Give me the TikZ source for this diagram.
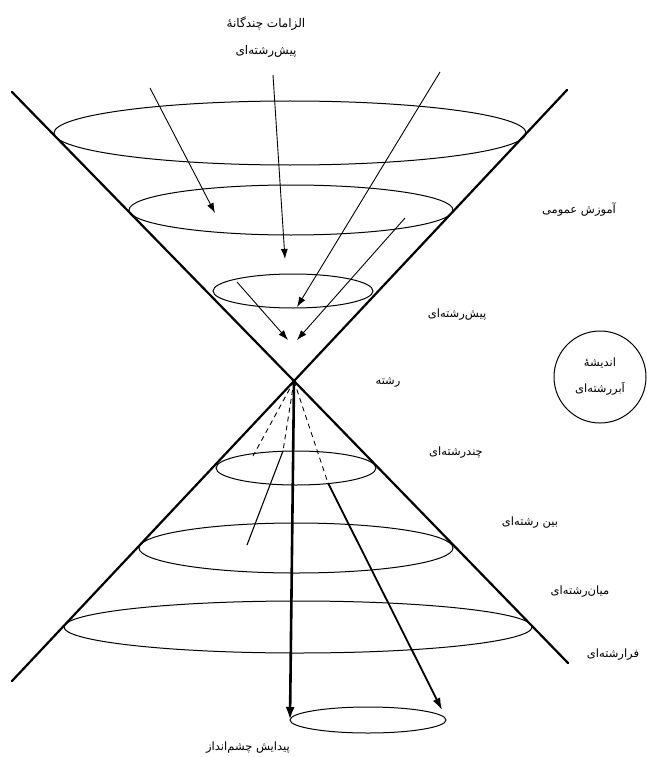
\documentclass[tikz,border=0pt]{standalone}
\usepackage{fontspec}
\newfontfamily\persfont[Script=Arabic]{DejaVu Sans}
\TeXXeTstate=1
\usetikzlibrary{arrows.meta}
\newcommand{\pers}[1]{{\persfont\beginR #1\endR}}
\begin{document}
\begin{tikzpicture}[x=1pt,y=-1pt,
  coneline/.style={line width=2.2pt,line cap=round},
  ring/.style={line width=1pt},
  thinarrow/.style={line width=0.9pt,-{Latex[length=10pt,width=7pt]}},
  dashline/.style={line width=0.9pt,dash pattern=on 5pt off 4pt},
  label/.style={font=\fontsize{11.5}{14}\selectfont,inner sep=0pt}]
\useasboundingbox (0,0) rectangle (647,757);
% cone lines
\coordinate (X) at (294,381);
\coordinate (UL) at (12,92);
\coordinate (LR) at (568,663);
\coordinate (UR) at (567,90);
\coordinate (LL) at (12,681);
\draw[coneline] (UL) -- (X) -- (LR);
\draw[coneline] (UR) -- (X) -- (LL);
% upper ellipses
\draw[ring] (290,133) ellipse [x radius=236,y radius=32];
\draw[ring] (291,210) ellipse [x radius=162,y radius=25];
\draw[ring] (293,291) ellipse [x radius=80,y radius=17];
% lower ellipses
\draw[ring] (296,468) ellipse [x radius=80,y radius=17];
\draw[ring] (296,548) ellipse [x radius=157,y radius=25];
\draw[ring] (298,627) ellipse [x radius=234,y radius=26];
\draw[ring] (368,720) ellipse [x radius=78,y radius=13];
% upper arrows
\coordinate (a1s) at (150,88);  \coordinate (a1e) at (215,213);
\coordinate (a2s) at (273,75);  \coordinate (a2e) at (285,259);
\coordinate (a3s) at (440,72);  \coordinate (a3e) at (297,307);
\coordinate (a4s) at (405,218); \coordinate (a4e) at (297,340);
\coordinate (a5s) at (237,282); \coordinate (a5e) at (288,340);
\draw[thinarrow] (a1s) -- (a1e);
\draw[thinarrow] (a2s) -- (a2e);
\draw[thinarrow] (a3s) -- (a3e);
\draw[thinarrow] (a4s) -- (a4e);
\draw[thinarrow] (a5s) -- (a5e);
% lower lines
\coordinate (b1e) at (290,720);
\draw[line width=2.6pt,-{Latex[length=13pt,width=9pt]}] (X) -- (b1e);
\coordinate (b2m) at (328,483);
\coordinate (b2e) at (442,710);
\draw[dashline] (X) -- (b2m);
\draw[line width=1.8pt,-{Latex[length=12pt,width=8pt]}] (b2m) -- (b2e);
\coordinate (b3m) at (283,451);
\coordinate (b3e) at (247,545);
\draw[dashline] (X) -- (b3m);
\draw[line width=1.1pt] (b3m) -- (b3e);
\coordinate (b4e) at (253,456);
\draw[dashline] (X) -- (b4e);
% circle
\node[draw,circle,line width=1pt,minimum size=92pt,inner sep=0pt,align=center,
  font=\fontsize{11.5}{26}\selectfont] (idea) at (600,377)
  {\pers{اندیشهٔ}\\\pers{اَبررشته‌ای}};
% labels
\node[inner sep=0pt,align=center,font=\fontsize{12}{27}\selectfont] (top) at (266,37)
  {\pers{الزامات چندگانهٔ}\\\pers{پیش‌رشته‌ای}};
\node[label] (l1) at (579,210) {\pers{آموزش عمومی}};
\node[label] (l2) at (457,315) {\pers{پیش‌رشته‌ای}};
\node[label] (l3) at (388,383) {\pers{رشته}};
\node[label] (l4) at (456,453) {\pers{چندرشته‌ای}};
\node[label] (l5) at (530,523) {\pers{بین رشته‌ای}};
\node[label] (l6) at (580,592) {\pers{میان‌رشته‌ای}};
\node[label] (l7) at (613,655) {\pers{فرارشته‌ای}};
\node[label] (l8) at (248,748) {\pers{پیدایش چشم‌انداز}};
\end{tikzpicture}
\end{document}
